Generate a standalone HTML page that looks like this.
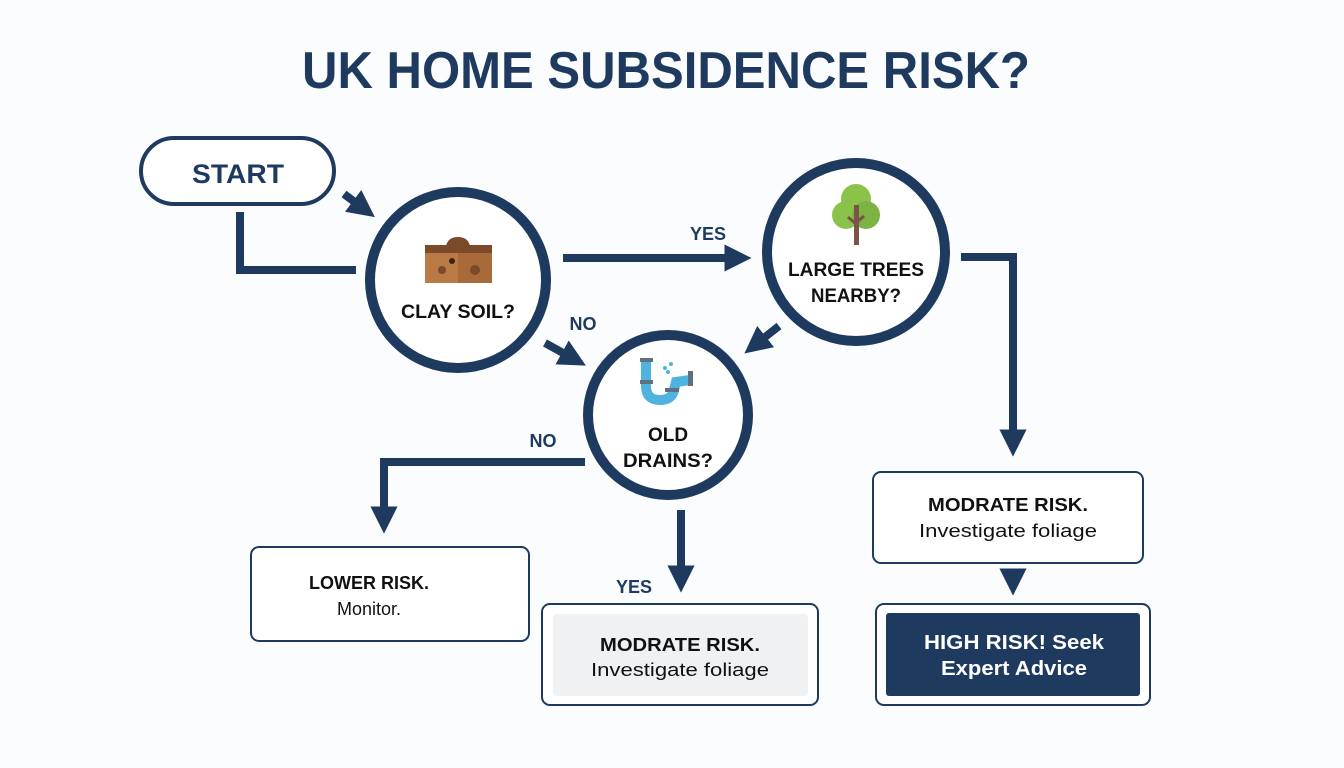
<!DOCTYPE html>
<html><head><meta charset="utf-8"><style>
html,body{margin:0;padding:0;background:#fbfcfd;}
svg{display:block;}
text{font-family:"Liberation Sans",sans-serif;font-weight:bold;}
</style></head><body>
<svg width="1344" height="768" viewBox="0 0 1344 768" xmlns="http://www.w3.org/2000/svg">
<defs>
<marker id="ah" viewBox="0 0 10 10" refX="5" refY="5" markerWidth="3.4" markerHeight="3.4" orient="auto" markerUnits="strokeWidth">
<path d="M0,0 L10,5 L0,10 z" fill="#1e3a5f"/></marker>
</defs>
<rect width="1344" height="768" fill="#fbfcfd"/>
<text x="666" y="88" font-size="52" fill="#1e3a5f" text-anchor="middle" textLength="728" lengthAdjust="spacingAndGlyphs">UK HOME SUBSIDENCE RISK?</text>

<rect x="141" y="138" width="193" height="66" rx="33" fill="#fff" stroke="#1e3a5f" stroke-width="4"/>
<text x="238" y="183" font-size="27" fill="#1e3a5f" text-anchor="middle" textLength="92" lengthAdjust="spacingAndGlyphs">START</text>

<g stroke="#1e3a5f" stroke-width="8" fill="none" stroke-linejoin="miter">
<line x1="344" y1="194" x2="364" y2="209" marker-end="url(#ah)"/>
<polyline points="240,212 240,270 356,270"/>
<line x1="563" y1="258" x2="738" y2="258" marker-end="url(#ah)"/>
<polyline points="961,257 1013,257 1013,443" marker-end="url(#ah)"/>
<line x1="545" y1="343" x2="574" y2="359" marker-end="url(#ah)"/>
<line x1="779" y1="326" x2="755" y2="345" marker-end="url(#ah)"/>
<polyline points="585,462 384,462 384,520" marker-end="url(#ah)"/>
<line x1="681" y1="510" x2="681" y2="579" marker-end="url(#ah)"/>
<line x1="1013" y1="571" x2="1013" y2="582" marker-end="url(#ah)"/>
</g>

<circle cx="458" cy="280" r="88" fill="#fff" stroke="#1e3a5f" stroke-width="10"/>
<circle cx="856" cy="252" r="89" fill="#fff" stroke="#1e3a5f" stroke-width="10"/>
<circle cx="668" cy="415" r="80" fill="#fff" stroke="#1e3a5f" stroke-width="10"/>

<g>
<rect x="425" y="245" width="67" height="38" fill="#b97a45"/>
<rect x="458" y="245" width="34" height="38" fill="#a86a38"/>
<path d="M425,245 L425,248 L492,248 L492,246 L470,246 Q468,237 458,237 Q448,237 446,246 Z" fill="#7a4a2a"/>
<rect x="425" y="245" width="67" height="8" fill="#7a4a2a"/>
<circle cx="442" cy="270" r="4" fill="#7a4a2a"/>
<circle cx="452" cy="261" r="3" fill="#3a2214"/>
<circle cx="475" cy="270" r="5" fill="#7a4a2a"/>
</g>
<text x="458" y="318" font-size="19" fill="#111" text-anchor="middle" textLength="114" lengthAdjust="spacingAndGlyphs">CLAY SOIL?</text>

<g>
<circle cx="856" cy="199" r="15" fill="#8bc34a"/>
<circle cx="846" cy="215" r="14" fill="#8bc34a"/>
<circle cx="866" cy="215" r="14" fill="#7cb342"/>
<rect x="854" y="205" width="5" height="40" fill="#795548"/>
<line x1="856" y1="224" x2="848" y2="217" stroke="#795548" stroke-width="3"/>
<line x1="857" y1="222" x2="864" y2="216" stroke="#795548" stroke-width="3"/>
</g>
<text x="856" y="276" font-size="19" fill="#111" text-anchor="middle" textLength="136" lengthAdjust="spacingAndGlyphs">LARGE TREES</text>
<text x="856" y="302" font-size="19" fill="#111" text-anchor="middle" textLength="90" lengthAdjust="spacingAndGlyphs">NEARBY?</text>

<g>
<path d="M646,360 L646,386 Q646,400 660,400 Q672,400 674,390 L676,382 L690,380" fill="none" stroke="#4fb3e0" stroke-width="10"/>
<rect x="640" y="358" width="13" height="4" fill="#607080"/>
<rect x="640" y="380" width="13" height="4" fill="#607080"/>
<rect x="665" y="388" width="14" height="4" fill="#607080"/>
<rect x="688" y="371" width="5" height="15" fill="#607080"/>
<circle cx="665" cy="368" r="2" fill="#4fb3e0"/><circle cx="671" cy="364" r="2" fill="#4fb3e0"/><circle cx="668" cy="372" r="2" fill="#4fb3e0"/>
</g>
<text x="668" y="441" font-size="19" fill="#111" text-anchor="middle">OLD</text>
<text x="668" y="467" font-size="19" fill="#111" text-anchor="middle" textLength="90" lengthAdjust="spacingAndGlyphs">DRAINS?</text>

<text x="708" y="240" font-size="18" fill="#1e3a5f" text-anchor="middle">YES</text>
<text x="583" y="330" font-size="18" fill="#1e3a5f" text-anchor="middle">NO</text>
<text x="543" y="447" font-size="18" fill="#1e3a5f" text-anchor="middle">NO</text>
<text x="634" y="593" font-size="18" fill="#1e3a5f" text-anchor="middle">YES</text>

<rect x="251" y="547" width="278" height="94" rx="8" fill="#fff" stroke="#1e3a5f" stroke-width="2"/>
<text x="369" y="589" font-size="18" fill="#111" text-anchor="middle">LOWER RISK.</text>
<text x="369" y="615" font-size="18" fill="#111" text-anchor="middle" style="font-weight:normal">Monitor.</text>

<rect x="542" y="604" width="276" height="101" rx="8" fill="#fff" stroke="#1e3a5f" stroke-width="2"/>
<rect x="553" y="614" width="255" height="82" rx="4" fill="#eff1f3"/>
<text x="680" y="651" font-size="18" fill="#111" text-anchor="middle" textLength="160" lengthAdjust="spacingAndGlyphs">MODRATE RISK.</text>
<text x="680" y="676" font-size="18" fill="#111" text-anchor="middle" style="font-weight:normal" textLength="178" lengthAdjust="spacingAndGlyphs">Investigate foliage</text>

<rect x="873" y="472" width="270" height="91" rx="8" fill="#fff" stroke="#1e3a5f" stroke-width="2"/>
<text x="1008" y="511" font-size="18" fill="#111" text-anchor="middle" textLength="160" lengthAdjust="spacingAndGlyphs">MODRATE RISK.</text>
<text x="1008" y="537" font-size="18" fill="#111" text-anchor="middle" style="font-weight:normal" textLength="178" lengthAdjust="spacingAndGlyphs">Investigate foliage</text>

<rect x="876" y="604" width="274" height="101" rx="8" fill="#fff" stroke="#1e3a5f" stroke-width="2"/>
<rect x="886" y="613" width="254" height="83" rx="3" fill="#1e3a5f"/>
<text x="1014" y="649" font-size="20" fill="#fff" text-anchor="middle" textLength="180" lengthAdjust="spacingAndGlyphs">HIGH RISK! Seek</text>
<text x="1014" y="675" font-size="20" fill="#fff" text-anchor="middle" textLength="146" lengthAdjust="spacingAndGlyphs">Expert Advice</text>
</svg>
</body></html>
